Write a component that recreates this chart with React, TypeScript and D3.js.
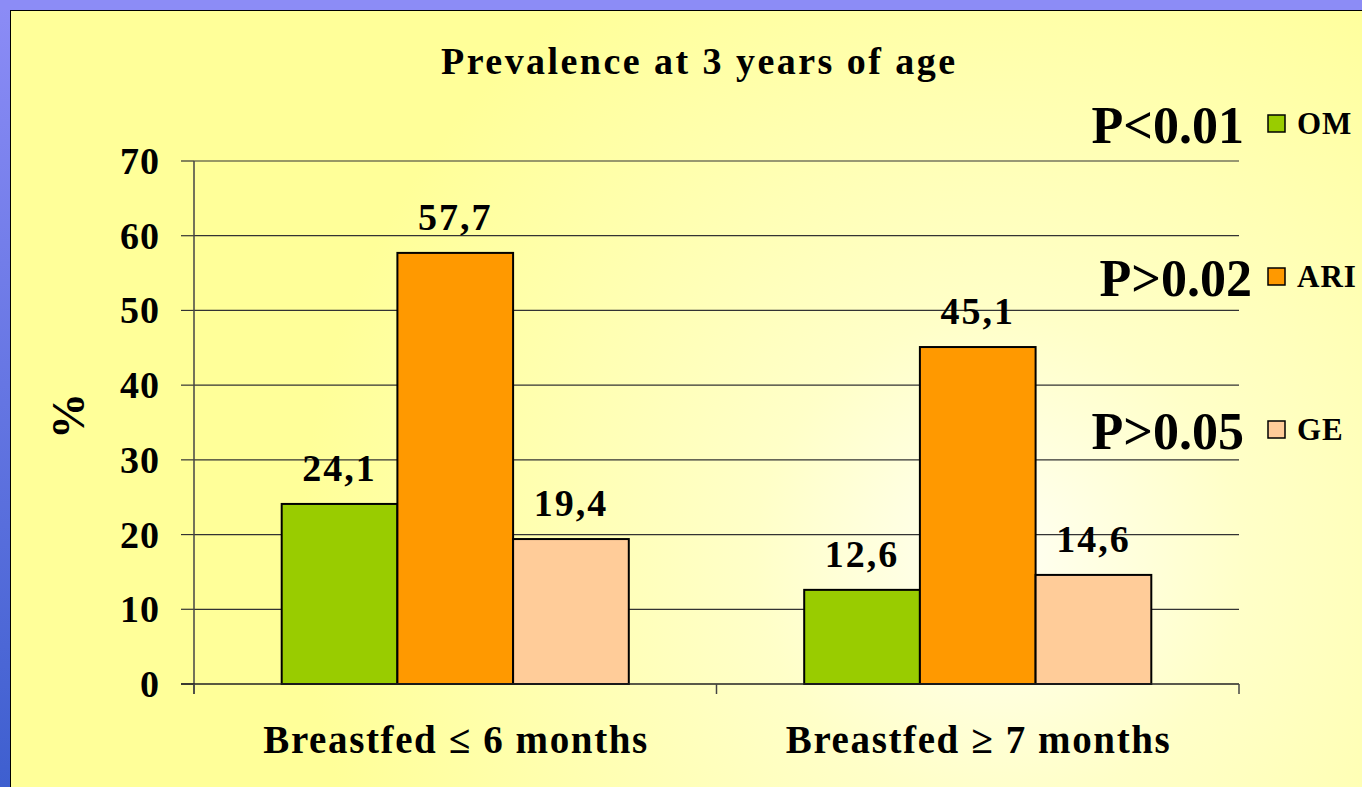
import * as d3 from 'd3';

const categories = ['Breastfed \u2264 6 months', 'Breastfed \u2265 7 months'];
const seriesNames = ['OM', 'ARI', 'GE'];
const omValues = [24.1, 12.6];
const ariValues = [57.7, 45.1];
const geValues = [19.4, 14.6];
const valueLabels = [
  ['24,1', '57,7', '19,4'],
  ['12,6', '45,1', '14,6'],
];
const pValues = ['P<0.01', 'P>0.02', 'P>0.05'];
const yTicks = [0, 10, 20, 30, 40, 50, 60, 70];
const colors = ['#99cc00', '#ff9900', '#ffcc99'];

const W = 1362;
const H = 787;
const FONT = '"Liberation Serif", "Times New Roman", serif';

const App = () => {
  const series = [omValues, ariValues, geValues];

  // plot area
  const left = 194;
  const right = 1239;
  const top = 161;
  const bottom = 684;

  const y = d3.scaleLinear().domain([0, 70]).range([bottom, top]);
  const x0 = d3.scaleBand().domain(categories).range([left, right]).padding(0);
  const x1 = d3
    .scaleBand()
    .domain(seriesNames)
    .range([0, x0.bandwidth()])
    .paddingInner(0)
    .paddingOuter(0.758);

  const legendY = d3.scalePoint().domain(seriesNames).range([123, 429]);

  return (
    <svg
      width={W}
      height={H}
      style={{ position: 'fixed', left: 0, top: 0, display: 'block' }}
      fontFamily={FONT}
    >
      <defs>
        <linearGradient id="side" x1="0" y1="0" x2="0" y2="1">
          <stop offset="0" stopColor="#8c8cf6" />
          <stop offset="1" stopColor="#3e5fcf" />
        </linearGradient>
        <radialGradient id="panel" cx="1000" cy="560" r="700" gradientUnits="userSpaceOnUse">
          <stop offset="0" stopColor="#fffff4" />
          <stop offset="0.35" stopColor="#ffffc8" />
          <stop offset="1" stopColor="#ffff99" />
        </radialGradient>
      </defs>

      {/* slide background */}
      <rect x={0} y={0} width={W} height={H} fill="url(#side)" />
      <rect x={0} y={0} width={W} height={10} fill="#8c8cf6" />
      <rect x={10.5} y={10.5} width={W} height={H} fill="url(#panel)" stroke="#000" strokeWidth={1} />

      {/* title */}
      <text
        x={698}
        y={74}
        textAnchor="middle"
        fontSize={38}
        fontWeight="bold"
        textLength={514}
        lengthAdjust="spacing"
      >
        Prevalence at 3 years of age
      </text>

      {/* gridlines */}
      {yTicks
        .filter((t) => t > 0)
        .map((t) => (
          <line key={t} x1={left} x2={right} y1={y(t)} y2={y(t)} stroke="#333" strokeWidth={1.2} />
        ))}

      {/* y tick marks & labels */}
      {yTicks.map((t) => (
        <g key={t}>
          <line x1={181} x2={left} y1={y(t)} y2={y(t)} stroke="#333" strokeWidth={1.2} />
          <text x={160} y={y(t) + 13} textAnchor="end" fontSize={38} fontWeight="bold" letterSpacing={1}>
            {t}
          </text>
        </g>
      ))}

      {/* y axis title */}
      <text
        transform={`translate(${84},${416}) rotate(-90)`}
        textAnchor="middle"
        fontSize={46}
        fontWeight="bold"
      >
        %
      </text>

      {/* bars */}
      {categories.map((c, ci) => (
        <g key={c} transform={`translate(${x0(c)},0)`}>
          {seriesNames.map((s, si) => {
            const v = series[si][ci];
            const bx = x1(s) as number;
            return (
              <g key={s}>
                <rect
                  x={bx}
                  y={y(v)}
                  width={x1.bandwidth()}
                  height={y(0) - y(v)}
                  fill={colors[si]}
                  stroke="#000"
                  strokeWidth={2}
                />
                <text
                  x={bx + x1.bandwidth() / 2}
                  y={y(v) - 23}
                  textAnchor="middle"
                  fontSize={38}
                  fontWeight="bold"
                  letterSpacing={2}
                >
                  {valueLabels[ci][si]}
                </text>
              </g>
            );
          })}
        </g>
      ))}

      {/* axes */}
      <line x1={left} x2={left} y1={top} y2={694} stroke="#444" strokeWidth={1.5} />
      <line x1={181} x2={right} y1={bottom} y2={bottom} stroke="#222" strokeWidth={1.5} />
      {[...categories.map((c) => x0(c) as number), right].map((tx, i) => (
        <line key={i} x1={tx} x2={tx} y1={bottom} y2={694} stroke="#444" strokeWidth={1.5} />
      ))}

      {/* category labels */}
      {categories.map((c) => (
        <text
          key={c}
          x={(x0(c) as number) + x0.bandwidth() / 2}
          y={753}
          textAnchor="middle"
          fontSize={39}
          fontWeight="bold"
          textLength={384}
          lengthAdjust="spacing"
        >
          {c}
        </text>
      ))}

      {/* p-values and legend */}
      {seriesNames.map((s, i) => {
        const ly = legendY(s) as number;
        return (
          <g key={s}>
            <text
              x={i === 1 ? 1252 : 1244}
              y={ly + 20}
              textAnchor="end"
              fontSize={52}
              fontWeight="bold"
            >
              {pValues[i]}
            </text>
            <rect x={1268} y={ly - 8} width={17} height={17} fill={colors[i]} stroke="#000" strokeWidth={1.5} />
            <text x={1297} y={ly + 11} fontSize={31} fontWeight="bold" letterSpacing={1}>
              {s}
            </text>
          </g>
        );
      })}
    </svg>
  );
};

export default App;
